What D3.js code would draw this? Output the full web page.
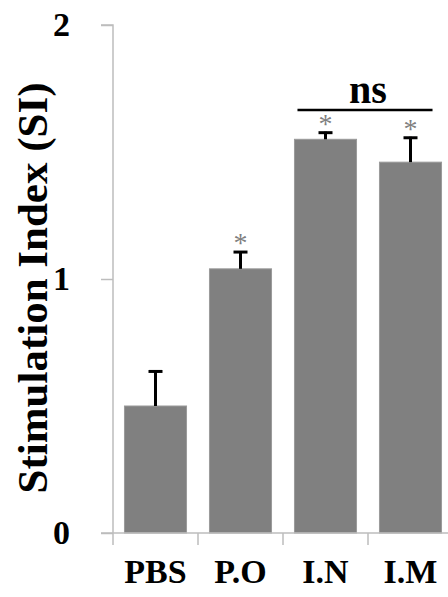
<!DOCTYPE html>
<html>
<head>
<meta charset="utf-8">
<script src="https://cdn.jsdelivr.net/npm/d3@7/dist/d3.min.js"></script>
<style>
  body { margin: 0; background: #fff; }
  svg { display: block; }
</style>
</head>
<body>
<div id="chart"></div>
<script>
// chart values
const categories = ["PBS", "P.O", "I.N", "I.M"];
const means = [0.50, 1.04, 1.55, 1.46];
const errors = [0.14, 0.07, 0.03, 0.10];
const marks = ["", "*", "*", "*"];
const yTicks = [0, 1, 2];
const nsPair = ["I.N", "I.M"];
const nsLevel = 1.665;

const W = 448, H = 597;
const margin = {top: 25, left: 113, bottom: 64};
const serif = "Liberation Serif";

const svg = d3.select("#chart")
    .append("svg")
        .attr("width", W)
        .attr("height", H)
        .attr("font-family", serif)
        .attr("font-weight", "bold");

const x = d3.scaleBand()
    .domain(categories)
    .range([margin.left, margin.left + 340])
    .paddingInner(0.27)
    .paddingOuter(0.135);

const y = d3.scaleLinear()
    .domain([0, 2])
    .range([H - margin.bottom, margin.top]);

const axisColor = "#bdbdbd";

// bars
svg.selectAll("rect.bar")
    .data(categories)
    .enter().append("rect")
        .attr("class", "bar")
        .attr("x", d => x(d))
        .attr("width", x.bandwidth())
        .attr("y", (d, i) => y(means[i]))
        .attr("height", (d, i) => y(0) - y(means[i]))
        .attr("fill", "#808080")
        .attr("stroke", "#9a9a9a")
        .attr("stroke-width", 1);

// y axis
const yAxis = svg.append("g")
    .attr("transform", `translate(${margin.left},0)`)
    .call(d3.axisLeft(y).tickValues(yTicks).tickFormat(d3.format("d")).tickSize(12).tickPadding(31));
yAxis.attr("font-family", serif).attr("font-size", 34);
yAxis.select(".domain").attr("stroke", axisColor).attr("stroke-width", 1.5)
    .attr("d", `M-12,${y(2)}H0V${y(0) + 12}`);
yAxis.selectAll(".tick line").attr("stroke", axisColor).attr("stroke-width", 1.5);
yAxis.selectAll(".tick text").attr("fill", "#000");

// x axis line and category ticks
svg.append("line")
    .attr("x1", margin.left - 12).attr("x2", W)
    .attr("y1", y(0)).attr("y2", y(0))
    .attr("stroke", axisColor).attr("stroke-width", 1.5);

svg.selectAll("line.xtick")
    .data(categories.slice(1).concat(["end"]))
    .enter().append("line")
        .attr("class", "xtick")
        .attr("x1", (d, i) => margin.left + x.step() * (i + 1))
        .attr("x2", (d, i) => margin.left + x.step() * (i + 1))
        .attr("y1", y(0)).attr("y2", y(0) + 12)
        .attr("stroke", axisColor).attr("stroke-width", 1.5);

svg.selectAll("text.xlab")
    .data(categories)
    .enter().append("text")
        .attr("class", "xlab")
        .attr("x", d => x(d) + x.bandwidth() / 2)
        .attr("y", y(0) + 50)
        .attr("text-anchor", "middle")
        .attr("font-size", 34)
        .text(d => d);

// error bars (upper only)
const eb = svg.selectAll("g.err")
    .data(categories)
    .enter().append("g")
        .attr("class", "err")
        .attr("transform", d => `translate(${x(d) + x.bandwidth() / 2},0)`);
eb.append("line")
    .attr("y1", (d, i) => y(means[i]))
    .attr("y2", (d, i) => y(means[i] + errors[i]))
    .attr("stroke", "#000").attr("stroke-width", 3);
eb.append("line")
    .attr("x1", -7).attr("x2", 7)
    .attr("y1", (d, i) => y(means[i] + errors[i]) + 1)
    .attr("y2", (d, i) => y(means[i] + errors[i]) + 1)
    .attr("stroke", "#000").attr("stroke-width", 3);
eb.append("text")
    .attr("y", (d, i) => y(means[i] + errors[i]) + 1)
    .attr("text-anchor", "middle")
    .attr("fill", "#7f7f7f")
    .attr("font-size", 28)
    .attr("font-weight", "normal")
    .text((d, i) => marks[i]);

// ns bracket
const nsX1 = x(nsPair[0]) + 3;
const nsX2 = x(nsPair[1]) + x.bandwidth() - 9;
svg.append("line")
    .attr("x1", nsX1).attr("x2", nsX2)
    .attr("y1", y(nsLevel)).attr("y2", y(nsLevel))
    .attr("stroke", "#000").attr("stroke-width", 2.5);
svg.append("text")
    .attr("x", (x(nsPair[0]) + x(nsPair[1]) + x.bandwidth()) / 2)
    .attr("y", y(nsLevel) - 7)
    .attr("text-anchor", "middle")
    .attr("font-size", 40)
    .text("ns");

// y axis label
svg.append("text")
    .attr("transform", `translate(47,${(y(0) + y(2)) / 2 + 9}) rotate(-90)`)
    .attr("text-anchor", "middle")
    .attr("font-size", 43)
    .text("Stimulation Index (SI)");
</script>
</body>
</html>
